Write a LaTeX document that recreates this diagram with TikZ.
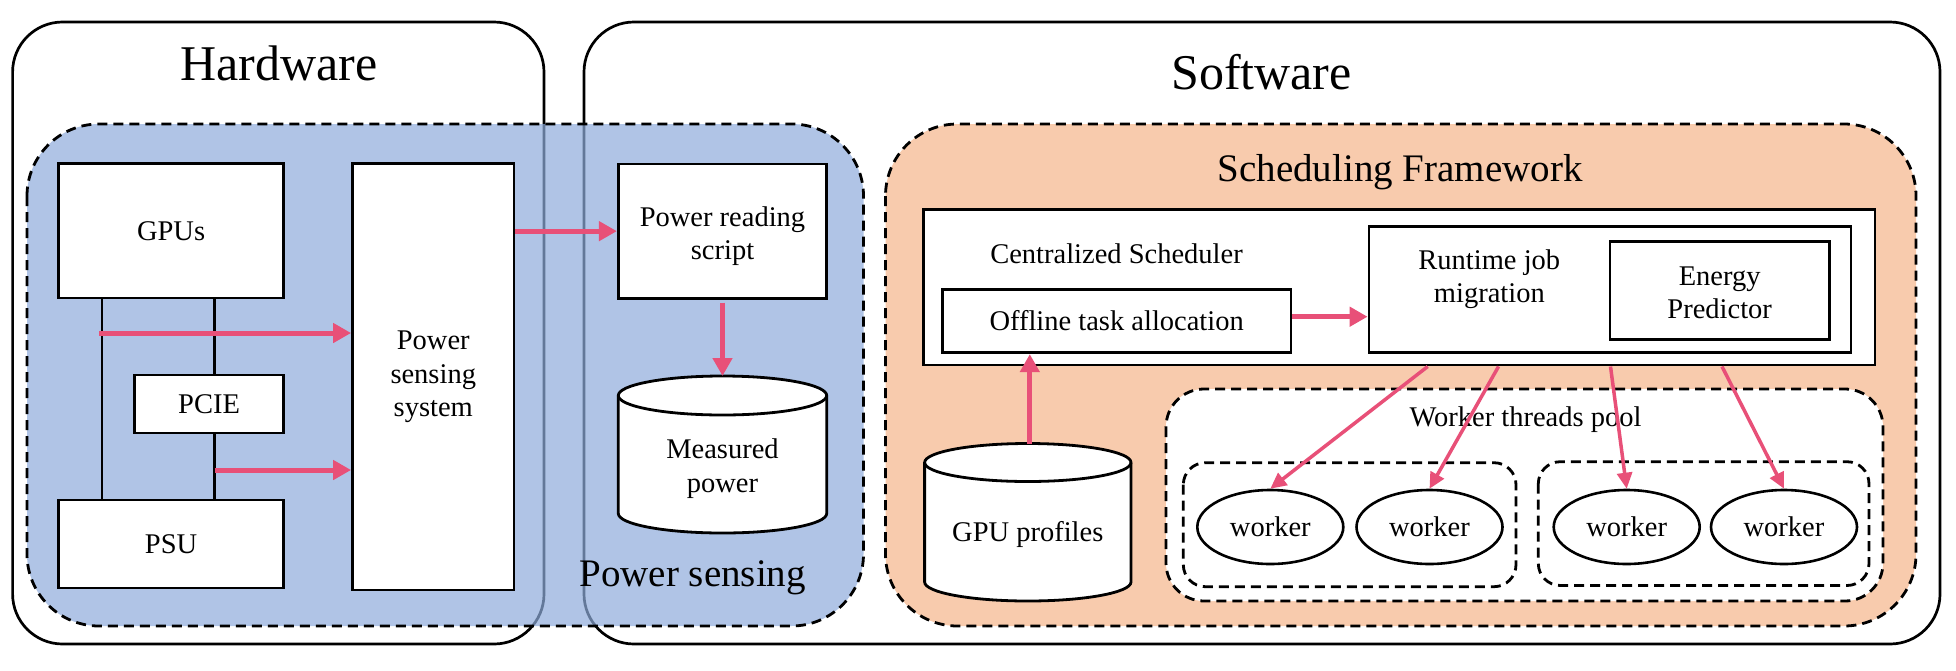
\documentclass[tikz,border=0pt]{standalone}
\usepackage{fontspec}
\setmainfont{Liberation Serif}
\usetikzlibrary{arrows.meta,shapes.geometric}
\definecolor{psblue}{RGB}{142,171,219}
\definecolor{sforange}{RGB}{248,203,173}
\definecolor{arrowpink}{RGB}{232,80,120}
\newcommand\boxfont{\fontsize{28.5}{33.5}\selectfont}
\newcommand\bigtitlefont{\fontsize{50}{60}\selectfont}
\newcommand\midtitlefont{\fontsize{39}{47}\selectfont}
\tikzset{
  outerbox/.style={draw=black, line width=2.7pt, rounded corners=50pt},
  dashedregion/.style={draw=black, line width=2.8pt, dash pattern=on 10pt off 6pt},
  whitebox/.style={draw=black, line width=2.8pt, fill=white, inner sep=0pt, align=center, font=\boxfont},
  plainnode/.style={inner sep=0pt, outer sep=0pt},
  txt/.style={inner sep=0pt, align=center, font=\boxfont},
  bigtitle/.style={inner sep=0pt, font=\bigtitlefont},
  midtitle/.style={inner sep=0pt, font=\midtitlefont},
  cylline/.style={draw=black, line width=2.8pt},
  wire/.style={draw=black, line width=2.6pt},
  workerell/.style={ellipse, draw=black, line width=2.6pt, fill=white, inner sep=0pt, minimum width=146pt, minimum height=74pt, font=\boxfont},
  thickarrow/.style={draw=arrowpink, line width=5pt, -{Triangle[length=18pt,width=19pt]}},
  thinarrow/.style={draw=arrowpink, line width=3.5pt, -{Triangle[length=16pt,width=15pt]}}
}
\begin{document}
\begin{tikzpicture}[x=1pt,y=-1pt]
\useasboundingbox (0,0) rectangle (1956,670);
% outer boxes
\draw[outerbox] (12.6,22) rectangle (544,644);
\draw[outerbox] (584,22) rectangle (1940,644);
\node[bigtitle, anchor=base] (hwtitle) at (279,80.7) {Hardware};
\node[bigtitle, anchor=base] (swtitle) at (1261.5,89) {Software};
% power sensing region
\fill[psblue, fill opacity=0.7, rounded corners=72pt] (27,124) rectangle (863.5,626);
\draw[dashedregion, rounded corners=72pt] (27,124) rectangle (863.5,626);
\node[midtitle, anchor=base] (pstitle) at (692.7,586.7) {Power sensing};
% hardware components
\coordinate (vl) at (102,0);
\coordinate (vr) at (214.5,0);
\node[whitebox, minimum width=225pt, minimum height=134.3pt] (gpus) at (171.1,230.85) {GPUs};
\node[whitebox, minimum width=149.1pt, minimum height=58pt] (pcie) at (209.05,404) {PCIE};
\node[whitebox, minimum width=225pt, minimum height=88pt] (psu) at (171.1,544) {PSU};
\node[whitebox, minimum width=161.5pt, minimum height=426.3pt] (pss) at (433.25,376.85) {Power\\sensing\\system};
\draw[wire] (gpus.south -| vl) -- (psu.north -| vl);
\draw[wire] (gpus.south -| vr) -- (pcie.north -| vr);
\draw[wire] (pcie.south -| vr) -- (psu.north -| vr);
\node[whitebox, minimum width=208.4pt, minimum height=134.3pt] (prs) at (722.5,231.15) {};
\node[txt] (prstext) at (722.5,236.1) {Power reading\\script};
% measured power cylinder
\draw[cylline, fill=white] (618.3,395.5) -- (618.3,513.5) arc[start angle=180, end angle=360, x radius=104.2pt, y radius=19.5pt] -- (826.7,395.5) arc[start angle=0, end angle=180, x radius=104.2pt, y radius=19.5pt] -- cycle;
\draw[cylline] (618.3,395.5) arc[start angle=180, end angle=360, x radius=104.2pt, y radius=19.5pt];
\node[plainnode, minimum width=208.4pt, minimum height=157pt] (mp) at (722.5,454.5) {};
\node[txt] (mptext) at (722.5,468.4) {Measured\\power};
% arrows power sensing
\coordinate (a1s) at (99,333);
\coordinate (a2s) at (214.5,470);
\draw[thickarrow] (a1s) -- (a1s -| pss.west);
\draw[thickarrow] (a2s) -- (a2s -| pss.west);
\draw[thickarrow] (pss.east |- prs.west) -- (prs.west);
\draw[thickarrow, shorten <=3pt] (prs.south) -- (mp.north);
% scheduling framework region
\fill[sforange, rounded corners=72pt] (885.5,124) rectangle (1916,626);
\draw[dashedregion, rounded corners=72pt] (885.5,124) rectangle (1916,626);
\node[midtitle, anchor=base] (sftitle) at (1400,181) {Scheduling Framework};
% centralized scheduler
\node[whitebox, minimum width=951.5pt, minimum height=155.7pt] (cs) at (1399.25,287.15) {};
\node[txt, anchor=base] (cstext) at (1116.5,263.3) {Centralized Scheduler};
\node[whitebox, minimum width=348.7pt, minimum height=63.4pt] (offline) at (1116.65,321) {Offline task allocation};
\node[whitebox, minimum width=482pt, minimum height=125.6pt] (rt) at (1610,289.5) {};
\node[txt] (rttext) at (1489.3,279.4) {Runtime job\\migration};
\node[whitebox, minimum width=219.3pt, minimum height=97.6pt] (ep) at (1719.65,290.5) {};
\node[txt] (eptext) at (1719.65,293) {Energy\\Predictor};
\draw[thickarrow] ([yshift=4.3pt]offline.east) -- ([yshift=4.3pt]offline.east -| rt.west);
% GPU profiles cylinder
\draw[cylline, fill=white] (924.6,462.5) -- (924.6,582) arc[start angle=180, end angle=360, x radius=103.2pt, y radius=19pt] -- (1131,462.5) arc[start angle=0, end angle=180, x radius=103.2pt, y radius=19pt] -- cycle;
\draw[cylline] (924.6,462.5) arc[start angle=180, end angle=360, x radius=103.2pt, y radius=19pt];
\node[plainnode, minimum width=206.4pt, minimum height=157.5pt] (gp) at (1029.8,522.25) {};
\node[txt] (gptext) at (1027.8,534) {GPU profiles};
\draw[thickarrow] (gp.north) -- (gp.north |- offline.south);
% worker threads pool
\draw[dashedregion, fill=white, rounded corners=38pt] (1166,389) rectangle (1883,601);
\node[txt, anchor=base] (wtptext) at (1525.5,426) {Worker threads pool};
\draw[dashedregion, rounded corners=22pt] (1183.3,462.7) rectangle (1516,586.7);
\draw[dashedregion, rounded corners=22pt] (1538.3,461.7) rectangle (1869,585.5);
\node[workerell] (w1) at (1270.3,527) {worker};
\node[workerell] (w2) at (1429.5,527) {worker};
\node[workerell] (w3) at (1626.7,527) {worker};
\node[workerell] (w4) at (1784,527) {worker};
% thin arrows
\coordinate (s1) at (1427.7,366.5);
\coordinate (s2) at (1498.5,366.5);
\coordinate (s3) at (1610.5,366.5);
\coordinate (s4) at (1722,366.5);
\draw[thinarrow] (s1) -- (w1.north);
\draw[thinarrow] (s2) -- (w2.north);
\draw[thinarrow] (s3) -- (w3.north);
\draw[thinarrow] (s4) -- (w4.north);
\end{tikzpicture}
\end{document}
